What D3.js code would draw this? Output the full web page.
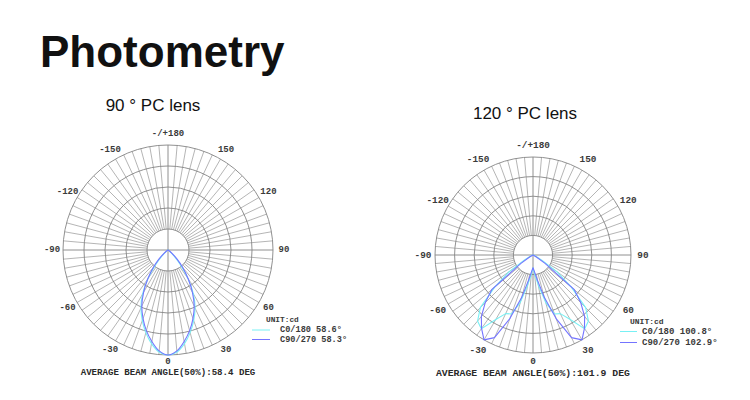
<!DOCTYPE html>
<html>
<head>
<meta charset="utf-8">
<script src="https://cdn.jsdelivr.net/npm/d3@7"></script>
<style>
  body { margin: 0; background: #fff; }
  svg { display: block; }
</style>
</head>
<body>
<svg id="chart" width="750" height="400"></svg>
<script>
// Gamma angles (deg from nadir) at which the luminous intensity is sampled.
const gammaDeg = [0, 5, 10, 15, 20, 25, 30, 35, 40, 45, 50, 55, 60, 65, 70, 75, 80, 85, 90];

// Relative intensity (1 = peak) for the 90° PC lens.
const lens90C0   = [1.00, 0.975, 0.905, 0.815, 0.715, 0.61, 0.485, 0.33, 0.18, 0.08, 0.03, 0.01, 0.0, 0, 0, 0, 0, 0, 0];
const lens90C90  = [1.00, 0.965, 0.885, 0.795, 0.695, 0.59, 0.465, 0.335, 0.22, 0.12, 0.05, 0.02, 0.005, 0, 0, 0, 0, 0, 0];

// Relative intensity (1 = peak) for the 120° PC lens (batwing).
const lens120C0  = [0.13, 0.20, 0.31, 0.50, 0.64, 0.66, 0.76, 0.92, 0.88, 0.76, 0.51, 0.30, 0.10, 0.03, 0.01, 0, 0, 0, 0];
const lens120C90 = [0.13, 0.17, 0.26, 0.45, 0.69, 0.93, 1.00, 0.915, 0.82, 0.69, 0.55, 0.15, 0.04, 0.01, 0, 0, 0, 0, 0];

// Polar axis ticks and their labels.
const tickAngles = [180, 150, 120, 90, 60, 30, 0, -30, -60, -90, -120, -150];
const tickLabels = ["-/+180", "150", "120", "90", "60", "30", "0", "-30", "-60", "-90", "-120", "-150"];
const ringLevels = [0.2, 0.4, 0.6, 0.8, 1.0];

// Legend entries and beam angles.
const seriesNames = ["C0/180", "C90/270"];
const beam90  = ["58.6°", "58.3°"];
const beam120 = ["100.8°", "102.9°"];
const avgBeam90 = "58.4";
const avgBeam120 = "101.9";

const seriesColors = ["#78f0f4", "#7474ff"];
const monoFont = "'Courier New', 'Nimbus Mono PS', 'FreeMono', 'Liberation Mono', monospace";

const svg = d3.select("#chart");

svg.append("text")
  .attr("x", 40).attr("y", 67)
  .attr("font-family", "'Liberation Sans', Arial, Helvetica, sans-serif")
  .attr("font-weight", "bold")
  .attr("font-size", 44)
  .attr("fill", "#111")
  .text("Photometry");

const panels = [
  { title: "90 ° PC lens", titleX: 153, titleY: 111, cx: 168, cy: 250, R: 105, labelR: 116,
    tickSize: 9, series: [lens90C0, lens90C90], beams: beam90, avg: avgBeam90,
    curve: d3.curveCatmullRom, legendDX: 98, legendDY: 70, lineX0: 84, lineX1: 102, textDX: 112,
    rowDY: [80, 89.5], legendSize: 8.6, unitSize: 7.8, avgY: 375, avgSize: 9.1 },
  { title: "120 ° PC lens", titleX: 525, titleY: 119, cx: 533, cy: 255, R: 98, labelR: 110,
    tickSize: 9.4, series: [lens120C0, lens120C90], beams: beam120, avg: avgBeam120,
    curve: d3.curveLinear, legendDX: 97, legendDY: 66, lineX0: 87, lineX1: 104, textDX: 109,
    rowDY: [76.5, 87.5], legendSize: 9, unitSize: 8, avgY: 376, avgSize: 9.8 }
];

// Gamma -> d3 radial angle: 0 points down, positive gamma turns to the right.
const angle = d3.scaleLinear().domain([-180, 180]).range([2 * Math.PI, 0]);
const spokes = d3.range(-180, 180, 5);

panels.forEach(p => {
  svg.append("text")
    .attr("x", p.titleX).attr("y", p.titleY)
    .attr("text-anchor", "middle")
    .attr("font-family", "'Liberation Sans', Arial, Helvetica, sans-serif")
    .attr("font-size", 17)
    .attr("fill", "#111")
    .text(p.title);

  const g = svg.append("g").attr("transform", `translate(${p.cx},${p.cy})`);
  const r = d3.scaleLinear().domain([0, 1]).range([0, p.R]);

  // spokes every 5°, from the inner ring out; the two main axes cross the centre
  g.append("g").selectAll("line").data(spokes).join("line")
    .each(function(a) {
      const axis = a % 90 === 0;
      const inner = axis ? 0 : r(ringLevels[0]);
      const [x0, y0] = d3.pointRadial(angle(a), inner);
      const [x1, y1] = d3.pointRadial(angle(a), r(1));
      d3.select(this).attr("x1", x0).attr("y1", y0).attr("x2", x1).attr("y2", y1)
        .attr("stroke", axis ? "#858585" : "#9c9c9c")
        .attr("stroke-width", axis ? 0.9 : 0.75);
    });

  g.append("g").selectAll("circle").data(ringLevels).join("circle")
    .attr("r", d => r(d))
    .attr("fill", "none")
    .attr("stroke", "#858585")
    .attr("stroke-width", 0.9);

  // tick labels around the rim (the nadir label sits a little closer, above the summary line)
  g.append("g").selectAll("text").data(tickAngles).join("text")
    .attr("x", (d) => d3.pointRadial(angle(d), d === 0 ? p.labelR - 4 : p.labelR)[0])
    .attr("y", (d) => d3.pointRadial(angle(d), d === 0 ? p.labelR - 4 : p.labelR)[1])
    .attr("text-anchor", "middle")
    .attr("dominant-baseline", "central")
    .attr("font-family", monoFont)
    .attr("font-weight", "bold")
    .attr("font-size", p.tickSize)
    .attr("fill", "#3a3a3a")
    .text((d, i) => tickLabels[i]);

  // intensity curves, mirrored across the nadir
  const line = d3.lineRadial()
    .angle(d => angle(d.g))
    .radius(d => r(d.v))
    .curve(p.curve);

  p.series.forEach((vals, si) => {
    const pts = [];
    for (let i = gammaDeg.length - 1; i > 0; i--) pts.push({ g: -gammaDeg[i], v: vals[i] });
    for (let i = 0; i < gammaDeg.length; i++) pts.push({ g: gammaDeg[i], v: vals[i] });
    g.append("path")
      .attr("d", line(pts))
      .attr("fill", "none")
      .attr("stroke", seriesColors[si])
      .attr("stroke-width", 1.1)
      .attr("stroke-linejoin", "round");
  });

  // legend
  g.append("text")
    .attr("x", p.legendDX).attr("y", p.legendDY)
    .attr("dominant-baseline", "central")
    .attr("font-family", monoFont).attr("font-weight", "bold")
    .attr("font-size", p.unitSize).attr("fill", "#3a3a3a")
    .text("UNIT:cd");

  seriesNames.forEach((name, si) => {
    g.append("line")
      .attr("x1", p.lineX0).attr("x2", p.lineX1)
      .attr("y1", p.rowDY[si]).attr("y2", p.rowDY[si])
      .attr("stroke", seriesColors[si]).attr("stroke-width", 1);
    g.append("text")
      .attr("x", p.textDX).attr("y", p.rowDY[si])
      .attr("dominant-baseline", "central")
      .attr("font-family", monoFont).attr("font-weight", "bold")
      .attr("font-size", p.legendSize).attr("fill", "#3a3a3a")
      .text(`${name} ${p.beams[si]}`);
  });

  svg.append("text")
    .attr("x", p.cx).attr("y", p.avgY)
    .attr("text-anchor", "middle")
    .attr("font-family", monoFont).attr("font-weight", "bold")
    .attr("font-size", p.avgSize).attr("fill", "#2a2a2a")
    .text(`AVERAGE BEAM ANGLE(50%):${p.avg} DEG`);
});
</script>
</body>
</html>
